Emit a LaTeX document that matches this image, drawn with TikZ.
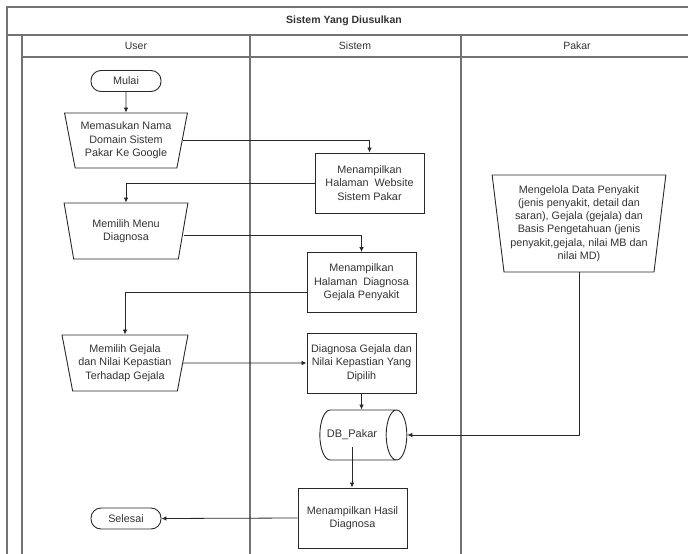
\documentclass[tikz,border=0pt]{standalone}
\usepackage{fontspec}
\setmainfont{Liberation Sans}
\usetikzlibrary{shapes.geometric,arrows.meta}
\definecolor{frame}{RGB}{115,115,115}
\definecolor{ink}{RGB}{40,40,40}
\definecolor{txt}{RGB}{50,50,50}
\tikzset{
  lane/.style={draw=frame,line width=1.5pt},
  proc/.style={draw=ink,line width=0.9pt,rectangle,align=center,text=txt,
    font=\fontsize{10.8}{13.3}\selectfont,minimum width=109,minimum height=60,inner sep=1pt},
  manual/.style={draw=ink,line width=0.9pt,trapezium,shape border rotate=180,
    trapezium stretches=true,trapezium left angle=76,trapezium right angle=76,
    align=center,text=txt,font=\fontsize{10.8}{13.3}\selectfont,inner sep=1pt},
  term/.style={draw=ink,line width=0.9pt,rectangle,rounded corners=10pt,
    minimum width=70,minimum height=21,text=txt,font=\fontsize{10.8}{12}\selectfont},
  db/.style={draw=ink,line width=0.9pt,cylinder,shape aspect=1.7,
    minimum height=87,minimum width=50,text=txt,font=\fontsize{11}{12}\selectfont,inner sep=1pt,
    execute at begin node={\hspace*{-9pt}}},
  flow/.style={draw=ink,line width=0.8pt,-{Latex[length=5pt,width=4.5pt]}},
  hdr/.style={text=txt,font=\fontsize{10.5}{12}\selectfont},
}
\begin{document}
\begin{tikzpicture}[x=1pt,y=-1pt]
\useasboundingbox (0,0) rectangle (688,554);
% swimlane frame
\draw[lane] (688,7) -- (7,7) -- (7,554);
\draw[lane] (7,35) -- (688,35);
\draw[lane] (22,35) -- (22,554);
\draw[lane] (22,57) -- (688,57);
\draw[lane] (250,35) -- (250,554);
\draw[lane] (461,35) -- (461,554);
\node[hdr,font=\fontsize{10.5}{12}\selectfont\bfseries] (title) at (344,21) {Sistem Yang Diusulkan};
\node[hdr] (huser) at (136,46) {User};
\node[hdr] (hsis) at (355,46) {Sistem};
\node[hdr] (hpak) at (577,46) {Pakar};
% nodes
\node[term] (mulai) at (126,81) {Mulai};
\node[manual,minimum width=123,minimum height=55] (t1) at (126,140.5) {Memasukan Nama\\Domain Sistem\\Pakar Ke Google};
\node[manual,minimum width=124,minimum height=56] (t2) at (126,231) {Memilih Menu\\Diagnosa};
\node[manual,minimum width=126,minimum height=56] (t3) at (125,363) {Memilih Gejala\\dan Nilai Kepastian\\Terhadap Gejala};
\node[manual,minimum width=174,minimum height=97,trapezium left angle=82,trapezium right angle=82] (t4) at (579,223.5)
  {Mengelola Data Penyakit\\(jenis penyakit, detail dan\\saran), Gejala (gejala) dan\\Basis Pengetahuan (jenis\\penyakit,gejala, nilai MB dan\\nilai MD)};
\node[proc] (b1) at (369.5,183) {Menampilkan\\Halaman\ \ Website\\Sistem Pakar};
\node[proc] (b2) at (361.5,282.5) {Menampilkan\\Halaman\ \ Diagnosa\\Gejala Penyakit};
\node[proc] (b3) at (361.5,363) {Diagnosa Gejala dan\\Nilai Kepastian Yang\\Dipilih};
\node[db] (db) at (356.5,435) {DB\_Pakar};
\node[proc] (b4) at (352.5,518) {Menampilkan Hasil\\Diagnosa};
\node[term] (selesai) at (126,518.5) {Selesai};
\coordinate (dbout) at (352,447);
% connectors
\draw[flow] (mulai) -- (t1);
\draw[flow] (t1.east) -| (b1.north);
\draw[flow] (b1.west) -| (t2.north);
\draw[flow] ([yshift=-4pt]t2.east) -| (b2.north);
\draw[flow] ([yshift=-10pt]b2.west) -| (t3.north);
\draw[flow] (t3.east) -- (b3.west);
\draw[flow] (b3.south) -- (b3.south |- db.north);
\draw[flow] (t4.south) |- (db.east);
\draw[flow] (dbout) -- (dbout |- b4.north);
\draw[flow] (b4.west) -- (selesai.east);
\end{tikzpicture}
\end{document}
